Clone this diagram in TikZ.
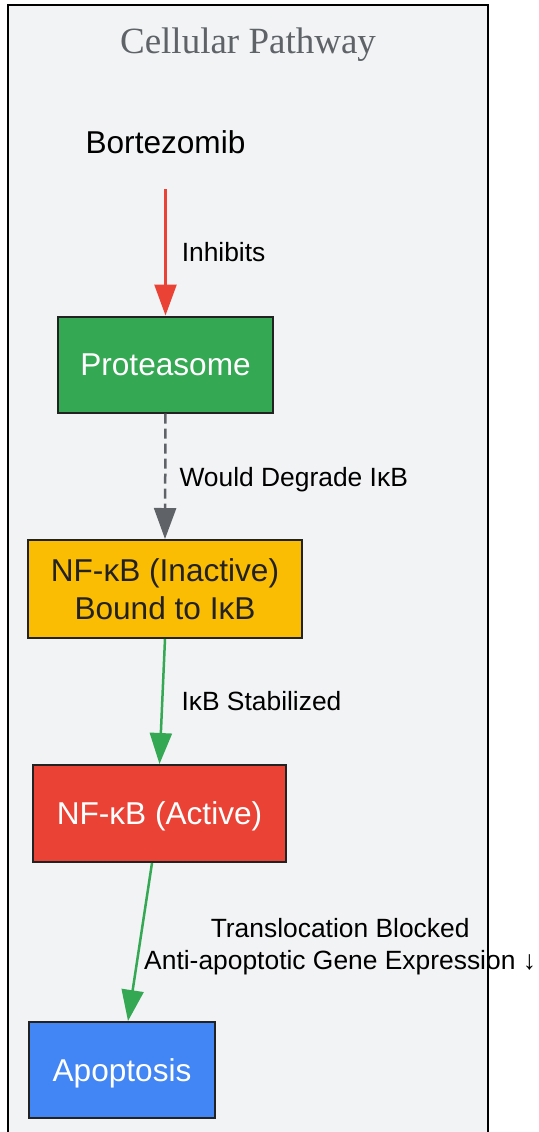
\documentclass[tikz,border=0pt]{standalone}
\usepackage{fontspec}
\setmainfont{Liberation Sans}
\newfontfamily\serifttl{Liberation Serif}
\usetikzlibrary{arrows.meta}

\definecolor{cellbg}{HTML}{F2F3F5}
\definecolor{boxline}{HTML}{222222}
\definecolor{ttlgray}{HTML}{5F6368}
\definecolor{pgreen}{HTML}{34A853}
\definecolor{pred}{HTML}{EA4335}
\definecolor{pyellow}{HTML}{FBBC04}
\definecolor{pblue}{HTML}{4285F4}
\definecolor{pgray}{HTML}{5F6368}

\tikzset{
  box/.style={draw=boxline, line width=1pt, inner sep=0pt, align=center,
    font=\fontsize{15.8}{19}\selectfont},
  oneline/.style={text height=14pt, text depth=2.8pt},
  lbl/.style={inner sep=0pt, align=center, text=black,
    font=\fontsize{13.2}{16}\selectfont},
  link/.style={line width=1.25pt, -{Triangle[length=15.5pt, width=11pt]}},
}

\begin{document}
\begin{tikzpicture}[x=0.5pt, y=-0.5pt]
    \useasboundingbox (0,0) rectangle (538,1132);
    % cluster
    \draw[fill=cellbg, line width=1.3pt] (8,5) rectangle (488,1160);
    \node[font=\serifttl\fontsize{18.5}{22}\selectfont, text=ttlgray, anchor=base] (title) at (248,53) {Cellular Pathway};

    % nodes
    \node[box, draw=none, minimum width=90pt, minimum height=46pt] (bort) at (165.5,142) {Bortezomib};
    \node[box, oneline, fill=pgreen, text=white, minimum width=107.5pt, minimum height=48pt] (prot) at (165.5,364.5) {Proteasome};
    \node[box, fill=pyellow, text=boxline, minimum width=137pt, minimum height=49pt] (inact) at (165,589) {NF-κB (Inactive)\\Bound to IκB};
    \node[box, oneline, fill=pred, text=white, minimum width=126.5pt, minimum height=48.5pt] (act) at (159.5,813.5) {NF-κB (Active)};
    \node[box, oneline, fill=pblue, text=white, minimum width=93pt, minimum height=48pt] (apo) at (122,1070) {Apoptosis};

    % connectors
    \draw[link, pred] (bort.south) -- node[lbl, right=7.5pt] {Inhibits} (prot.north);
    \draw[link, pgray, dash pattern=on 5pt off 2.5pt] (prot.south) -- node[lbl, right=6.5pt, yshift=-1.5pt] {Would Degrade IκB} (inact.north);
    \draw[link, pgreen] (inact.south) -- node[lbl, right=9pt] {IκB Stabilized} (act.north);
    \draw[link, pgreen] ([xshift=-3.75pt]act.south) -- node[lbl, right=1.5pt, yshift=-2.5pt] {Translocation Blocked\\Anti-apoptotic Gene Expression ↓} ([xshift=3pt]apo.north);
\end{tikzpicture}
\end{document}
